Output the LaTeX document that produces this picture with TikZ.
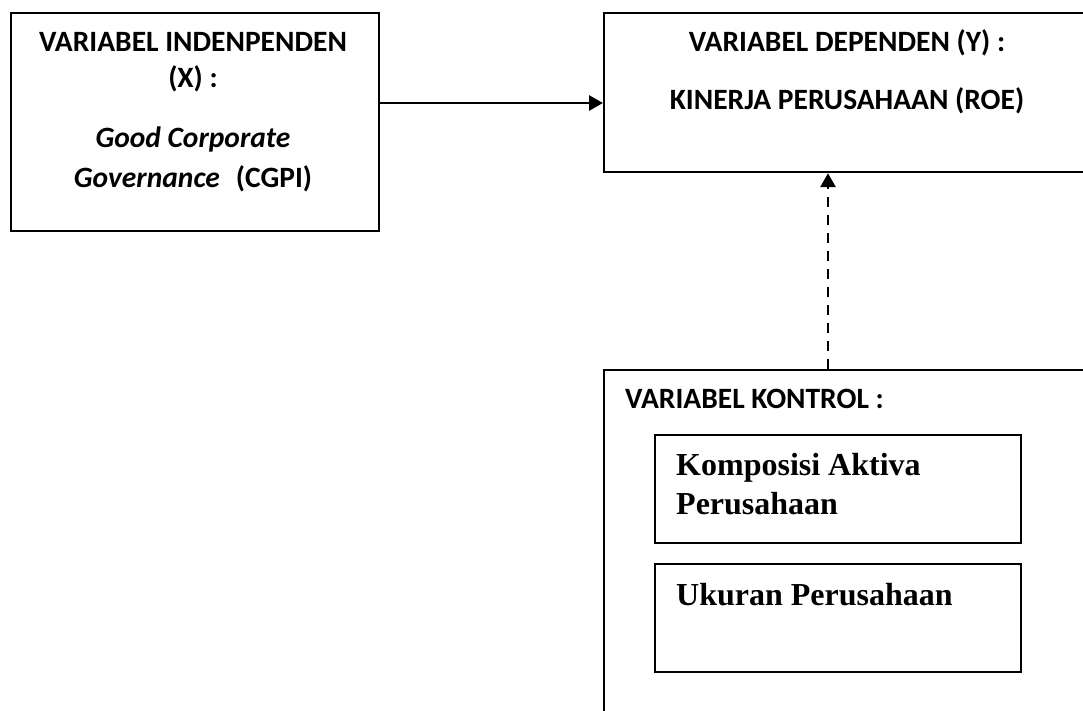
\documentclass[tikz,border=0pt]{standalone}
\usepackage{fontspec}
\setmainfont{Carlito}
\newfontfamily\serifbox{Liberation Serif}
\usetikzlibrary{arrows.meta}
\tikzset{
  box/.style={draw, line width=2.2pt, anchor=north west, inner sep=0pt},
  hdr/.style={font=\fontsize{29.5}{34}\selectfont\bfseries, anchor=base, inner sep=0pt},
  hdrl/.style={hdr, anchor=base west},
  itm/.style={font=\serifbox\fontsize{32}{38}\selectfont\bfseries, anchor=base west, inner sep=0pt},
  arr/.style={line width=2.8pt, -{Triangle[length=14pt,width=15pt]}},
  darr/.style={arr, dash pattern=on 10pt off 8pt}
}
\begin{document}
\begin{tikzpicture}[x=1pt,y=-1pt]
\useasboundingbox (0,0) rectangle (1083,711);
\clip (0,0) rectangle (1083,711);
\node[box, minimum width=368pt, minimum height=218pt] (bx) at (10,12) {};
\node[box, minimum width=490pt, minimum height=159pt] (by) at (603,12) {};
\node[box, minimum width=490pt, minimum height=400pt] (ctrl) at (603,369) {};
\node[box, minimum width=366pt, minimum height=108pt] (k1) at (654,434) {};
\node[box, minimum width=366pt, minimum height=108pt] (k2) at (654,563) {};
% texts
\node[hdr] (tx1) at (193,52) {VARIABEL INDENPENDEN};
\node[hdr] (tx2) at (193,88) {(X) :};
\node[hdr] (tx3) at (193,148) {\itshape Good Corporate};
\node[hdr] (tx4) at (193,188) {{\itshape Governance}\hspace{16pt}(CGPI)};
\node[hdr] (ty1) at (847,52) {VARIABEL DEPENDEN (Y) :};
\node[hdr] (ty2) at (847,110) {KINERJA PERUSAHAAN (ROE)};
\node[hdrl] (tc) at (625,408) {VARIABEL KONTROL :};
\node[itm] (tk1) at (676,475) {Komposisi Aktiva};
\node[itm] (tk2) at (676,514) {Perusahaan};
\node[itm] (tk3) at (676,605) {Ukuran Perusahaan};
% connectors
\path (bx.north east) ++(0,91) coordinate (a1);
\draw[arr] (a1) -- (a1 -| by.west);
\path (ctrl.north west) ++(225,0) coordinate (d1);
\draw[darr] (d1) -- (d1 |- by.south);
\end{tikzpicture}
\end{document}
